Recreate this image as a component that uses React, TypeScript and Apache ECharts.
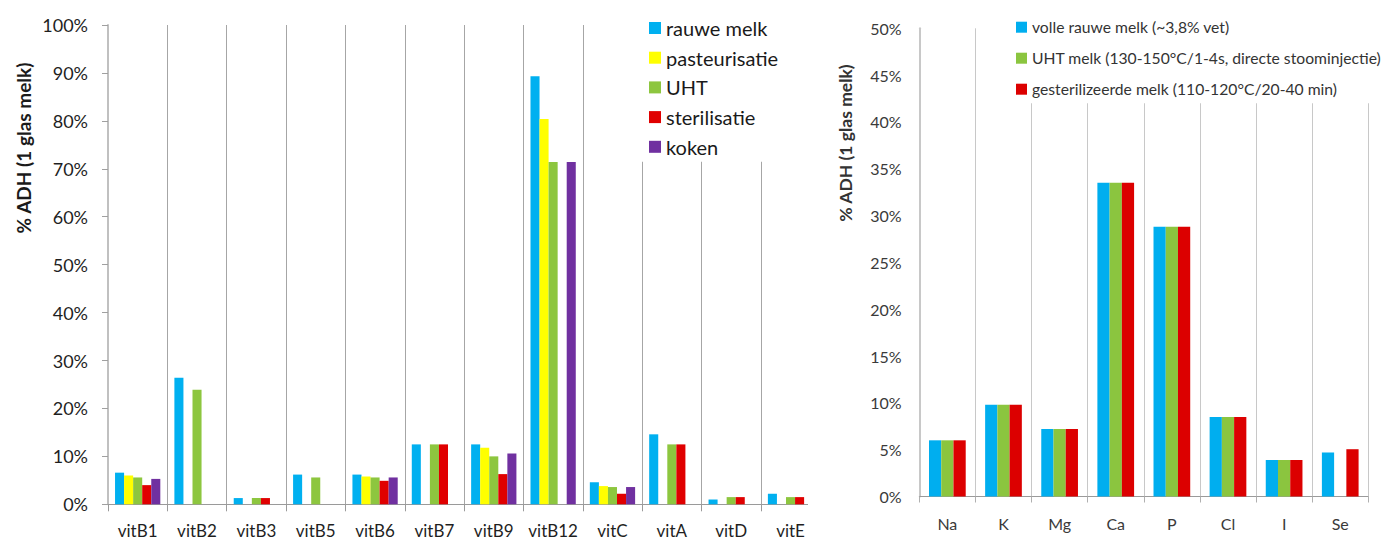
import React, { useEffect, useRef } from "react";
import * as echarts from "echarts";

// ---- Left chart: vitamins ----
const vitCategories = ["vitB1", "vitB2", "vitB3", "vitB5", "vitB6", "vitB7", "vitB9", "vitB12", "vitC", "vitA", "vitD", "vitE"];
const rauweMelk = [6.6, 26.4, 1.3, 6.2, 6.2, 12.5, 12.5, 89.3, 4.6, 14.6, 1.0, 2.2];
const pasteurisatie = [6.0, null, null, null, 5.8, null, 11.8, 80.4, 3.8, null, null, null];
const uht = [5.6, 23.9, 1.3, 5.6, 5.6, 12.5, 10.0, 71.4, 3.6, 12.5, 1.5, 1.5];
const sterilisatie = [4.0, null, 1.3, null, 4.9, 12.5, 6.3, null, 2.2, 12.5, 1.5, 1.5];
const koken = [5.3, null, null, null, 5.6, null, 10.6, 71.4, 3.6, null, null, null];
const vitSeriesNames = ["rauwe melk", "pasteurisatie", "UHT", "sterilisatie", "koken"];
const vitColors = ["#00B0F0", "#FFFF00", "#8DC63F", "#E00000", "#7030A0"];

// ---- Right chart: minerals ----
const minerals = ["Na", "K", "Mg", "Ca", "P", "Cl", "I", "Se"];
const volleRauweMelk = [6.0, 9.8, 7.2, 33.5, 28.8, 8.5, 3.9, 4.7];
const uhtMelk = [6.0, 9.8, 7.2, 33.5, 28.8, 8.5, 3.9, null];
const gesteriliseerdeMelk = [6.0, 9.8, 7.2, 33.5, 28.8, 8.5, 3.9, 5.05];
const minSeriesNames = [
  "volle rauwe melk (~3,8% vet)",
  "UHT melk (130-150°C/1-4s, directe stoominjectie)",
  "gesterilizeerde melk (110-120°C/20-40 min)",
];
const minColors = ["#00AEEF", "#8BC53F", "#DC0000"];

const yTitle = "% ADH (1 glas melk)";
const FONT = "Lato";

export default function App() {
  const ref = useRef<HTMLDivElement>(null);

  useEffect(() => {
    if (!ref.current) return;
    const chart = echarts.init(ref.current, undefined, { renderer: "svg" });

    const vitData = [rauweMelk, pasteurisatie, uht, sterilisatie, koken];
    const minData = [volleRauweMelk, uhtMelk, gesteriliseerdeMelk];

    const option: any = {
      animation: false,
      backgroundColor: "#ffffff",
      grid: [
        { left: 108, top: 25, width: 712.2, height: 479.3, containLabel: false },
        { left: 919.3, top: 28.3, width: 449, height: 468.2, containLabel: false },
      ],
      legend: [
        {
          data: vitSeriesNames,
          orient: "vertical",
          left: 640,
          top: 10,
          padding: [8, 20, 5, 9],
          backgroundColor: "#ffffff",
          itemWidth: 12,
          itemHeight: 12,
          itemGap: 9.7,
          icon: "rect",
          z: 10,
          textStyle: { fontFamily: FONT, fontSize: 20, lineHeight: 20, color: "#1a1a1a" },
        },
        {
          data: minSeriesNames,
          orient: "vertical",
          left: 1004,
          top: 11.2,
          padding: [8, 4, 6, 12],
          backgroundColor: "#ffffff",
          itemWidth: 11,
          itemHeight: 11,
          itemGap: 15,
          icon: "rect",
          z: 10,
          textStyle: { fontFamily: FONT, fontSize: 15.7, lineHeight: 15, color: "#333333" },
        },
      ],
      xAxis: [
        {
          type: "category",
          gridIndex: 0,
          data: vitCategories,
          axisLine: { show: true, lineStyle: { color: "#9a9a9a", width: 1 } },
          axisTick: { show: true, length: 7, lineStyle: { color: "#9a9a9a" } },
          splitLine: { show: true, lineStyle: { color: "#a6a6a6", width: 1 } },
          axisLabel: { interval: 0, margin: 19, lineHeight: 14, fontFamily: FONT, fontSize: 17, color: "#1f1f1f" },
        },
        {
          type: "category",
          gridIndex: 1,
          data: minerals,
          axisLine: { show: true, lineStyle: { color: "#9a9a9a", width: 1 } },
          axisTick: { show: true, length: 6, lineStyle: { color: "#b0b0b0" } },
          splitLine: { show: true, lineStyle: { color: "#c8c8c8", width: 1 } },
          axisLabel: { interval: 0, margin: 19, fontFamily: FONT, fontSize: 16, color: "#3a3a3a" },
        },
      ],
      yAxis: [
        {
          type: "value",
          gridIndex: 0,
          min: 0,
          max: 100,
          interval: 10,
          axisLine: { show: true, lineStyle: { color: "#c0c0c0", width: 2 } },
          axisTick: { show: true, length: 6, lineStyle: { color: "#a0a0a0" } },
          splitLine: { show: false },
          axisLabel: { formatter: "{value}%", margin: 20, fontFamily: FONT, fontSize: 18, color: "#1f1f1f" },
        },
        {
          type: "value",
          gridIndex: 1,
          min: 0,
          max: 50,
          interval: 5,
          axisLine: { show: true, lineStyle: { color: "#c8c8c8", width: 2 } },
          axisTick: { show: false },
          splitLine: { show: false },
          axisLabel: { formatter: "{value}%", margin: 17.6, fontFamily: FONT, fontSize: 16, color: "#3a3a3a" },
        },
      ],
      series: [
        ...vitSeriesNames.map((name, i) => ({
          name,
          type: "bar",
          xAxisIndex: 0,
          yAxisIndex: 0,
          data: vitData[i],
          barGap: "0%",
          barCategoryGap: "23.7%",
          itemStyle: { color: vitColors[i] },
        })),
        ...minSeriesNames.map((name, i) => ({
          name,
          type: "bar",
          xAxisIndex: 1,
          yAxisIndex: 1,
          data: minData[i],
          barGap: "0%",
          barCategoryGap: "34.6%",
          itemStyle: { color: minColors[i] },
        })),
      ],
      graphic: [
        {
          type: "rect",
          z: 100,
          shape: { x: 808, y: 0, width: 18, height: 541 },
          style: { fill: "#ffffff" },
        },
        {
          type: "text",
          z: 101,
          x: 23,
          y: 148,
          rotation: Math.PI / 2,
          style: {
            text: yTitle,
            fontFamily: FONT,
            fontSize: 19,
            fontWeight: "bold",
            fill: "#1a1a1a",
            align: "center",
            verticalAlign: "middle",
          },
        },
        {
          type: "text",
          z: 101,
          x: 845,
          y: 143,
          rotation: Math.PI / 2,
          style: {
            text: yTitle,
            fontFamily: FONT,
            fontSize: 17.5,
            fontWeight: "bold",
            fill: "#333333",
            align: "center",
            verticalAlign: "middle",
          },
        },
      ],
    };

    chart.setOption(option);
    return () => chart.dispose();
  }, []);

  return (
    <div
      ref={ref}
      style={{ position: "absolute", left: 0, top: 0, width: 1385, height: 541, background: "#fff" }}
    />
  );
}
